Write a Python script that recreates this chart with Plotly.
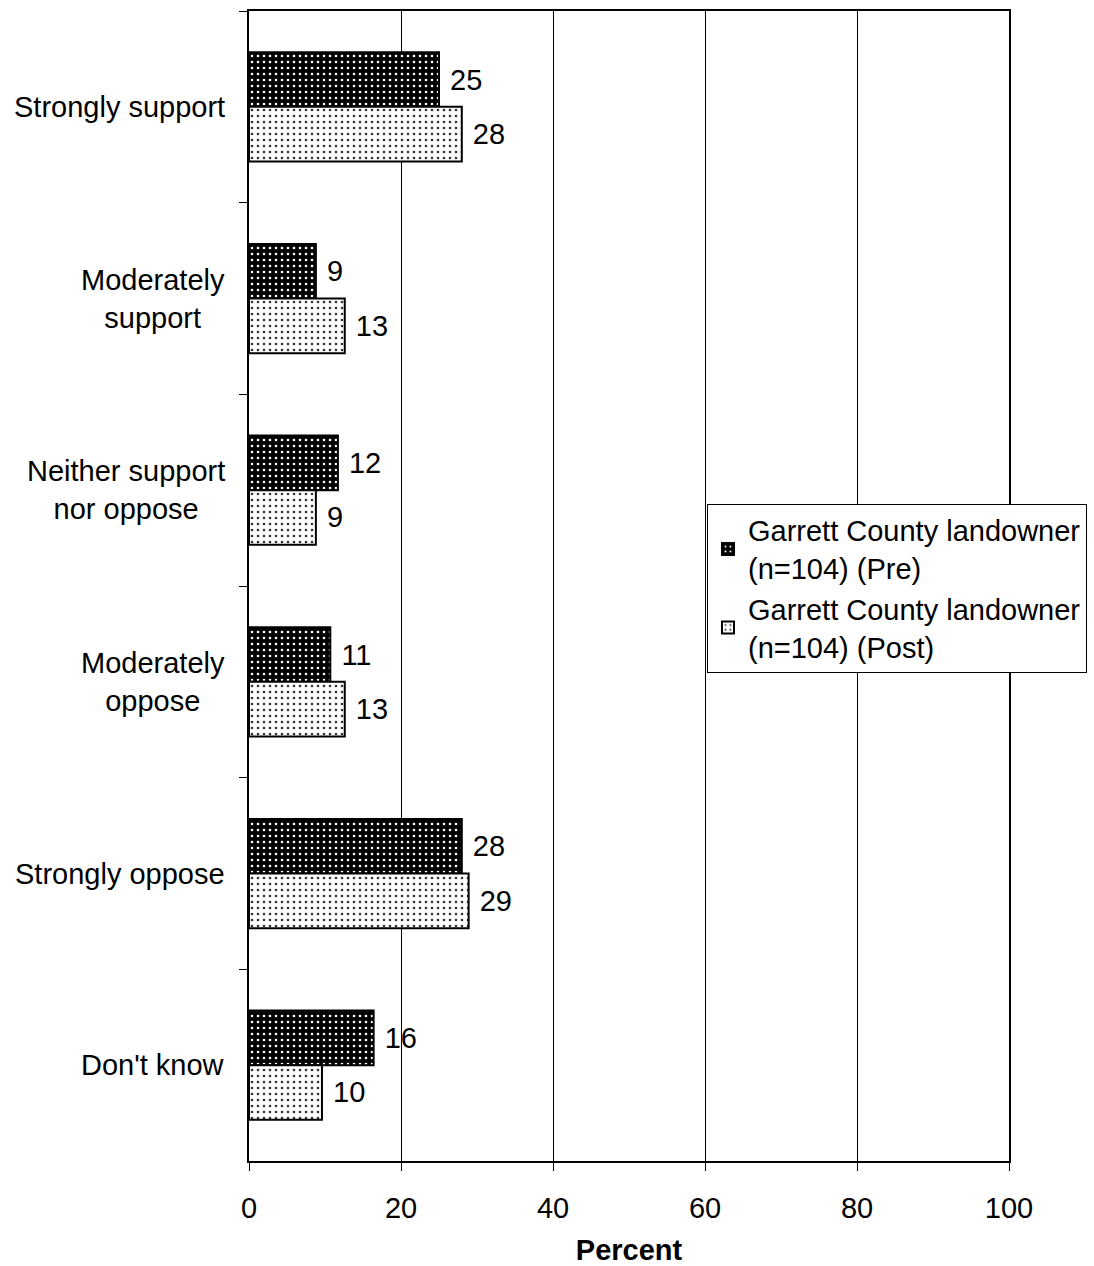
import plotly.graph_objects as go

categories = ["Strongly support", "Moderately<br>support", "Neither support<br>nor oppose",
              "Moderately<br>oppose", "Strongly oppose", "Don't know"]
pre_values = [25.0, 8.8, 11.7, 10.7, 28.0, 16.4]
post_values = [28.0, 12.6, 8.8, 12.6, 28.9, 9.6]
pre_labels = ["25", "9", "12", "11", "28", "16"]
post_labels = ["28", "13", "9", "13", "29", "10"]
series_names = ["Garrett County landowner<br>(n=104) (Pre)",
                "Garrett County landowner<br>(n=104) (Post)"]
x_ticks = [0, 20, 40, 60, 80, 100]

FONT = "Liberation Sans, Arial, sans-serif"
FS = 29

fig = go.Figure()
fig.add_trace(go.Bar(
    y=categories, x=pre_values, orientation="h", name=series_names[0],
    text=pre_labels, texttemplate="\u00a0%{text}", textposition="outside",
    textfont=dict(family=FONT, size=FS, color="black"), cliponaxis=False,
    marker=dict(color="black", line=dict(color="black", width=2),
                pattern=dict(shape=".", fgcolor="white", bgcolor="black",
                             size=6, solidity=0.15, fillmode="replace")),
))
fig.add_trace(go.Bar(
    y=categories, x=post_values, orientation="h", name=series_names[1],
    text=post_labels, texttemplate="\u00a0%{text}", textposition="outside",
    textfont=dict(family=FONT, size=FS, color="black"), cliponaxis=False,
    marker=dict(color="white", line=dict(color="black", width=2),
                pattern=dict(shape=".", fgcolor="#333333", bgcolor="white",
                             size=6, solidity=0.15, fillmode="replace")),
))

for c in categories:
    fig.add_annotation(x=0, xref="paper", y=c, yref="y", text=c, showarrow=False,
                       xanchor="right", yanchor="middle", align="center", xshift=-22,
                       font=dict(family=FONT, size=FS, color="black"))

fig.update_layout(
    width=1094, height=1266,
    margin=dict(l=249, r=85, t=11, b=105, autoexpand=False),
    paper_bgcolor="white", plot_bgcolor="white",
    font=dict(family=FONT, size=FS, color="black"),
    barmode="group", bargap=0.43, bargroupgap=0,
    showlegend=True,
    legend=dict(x=0.6026, y=0.498, xanchor="left", yanchor="middle",
                bgcolor="white", bordercolor="black", borderwidth=1,
                traceorder="normal", font=dict(family=FONT, size=FS, color="black"),
                itemwidth=30, tracegroupgap=4),
)
fig.update_xaxes(range=[0, 100], tickvals=x_ticks, showgrid=True, gridcolor="black",
                 gridwidth=1, showline=True, linecolor="black", linewidth=2, mirror=True,
                 ticks="outside", ticklen=8, tickcolor="black", zeroline=False,
                 ticklabelstandoff=12,
                 title=dict(text="<b>Percent</b>", font=dict(family=FONT, size=FS), standoff=22))
fig.update_yaxes(type="category", autorange="reversed", showgrid=False,
                 showline=True, linecolor="black", linewidth=2, mirror=True,
                 ticks="outside", tickson="boundaries", ticklen=8, tickcolor="black",
                 showticklabels=False)

fig.write_html("out.html", config={"displayModeBar": False},
               post_script="document.body.style.margin='0';document.body.style.overflow='hidden';")
